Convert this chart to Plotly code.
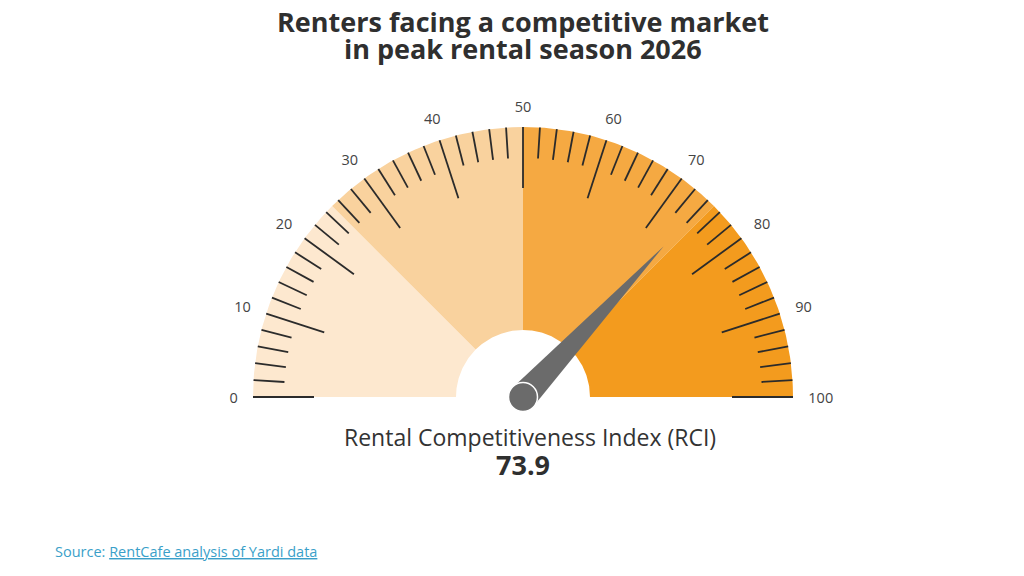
import numpy as np
import plotly.graph_objects as go

# ---- data ----
value = 73.9
band_edges = [0, 25, 50, 75, 100]
band_colors = ["#FDE8CF", "#F9D29E", "#F5A942", "#F39B1E"]
major_ticks = [0, 10, 20, 30, 40, 50, 60, 70, 80, 90, 100]
minor_ticks = [v for v in range(0, 101, 2) if v % 10 != 0]
tick_labels = [str(v) for v in major_ticks]
title_lines = ["Renters facing a competitive market", "in peak rental season 2026"]
index_name = "Rental Competitiveness Index (RCI)"

# ---- geometry (pixel-like units, gauge centre at 0,0) ----
W, H = 1024, 576
CX_PX, CY_PX = 523, 397
R_OUT, R_IN = 270, 67
MAJ_LEN, MIN_LEN = 61, 31
LABEL_EDGE_R = 285
LABEL_DY = -2.5
CHAR_W, TEXT_H = 8.5, 12
NEEDLE_LEN, NEEDLE_HALF = 206, 14
HUB_R = 14.5


def ang(v):
    return np.pi * (1 - v / 100.0)


fig = go.Figure()

# bands
for v0, v1, col in zip(band_edges[:-1], band_edges[1:], band_colors):
    t = np.linspace(ang(v0), ang(v1), 60)
    xs = np.concatenate([R_OUT * np.cos(t), R_IN * np.cos(t[::-1])])
    ys = np.concatenate([R_OUT * np.sin(t), R_IN * np.sin(t[::-1])])
    fig.add_trace(go.Scatter(x=xs, y=ys, fill="toself", fillcolor=col,
                             mode="lines", line=dict(width=0, color=col),
                             hoverinfo="skip", showlegend=False))


def tick_trace(vals, length, width):
    xs, ys = [], []
    for v in vals:
        a = ang(v)
        xs += [R_OUT * np.cos(a), (R_OUT - length) * np.cos(a), None]
        ys += [R_OUT * np.sin(a), (R_OUT - length) * np.sin(a), None]
    return go.Scatter(x=xs, y=ys, mode="lines",
                      line=dict(color="#2b2b2b", width=width),
                      hoverinfo="skip", showlegend=False)


fig.add_trace(tick_trace(minor_ticks, MIN_LEN, 1.8))
fig.add_trace(tick_trace(major_ticks, MAJ_LEN, 1.8))

# tick labels: box edge sits just outside the arc
lx, ly = [], []
for v, s in zip(major_ticks, tick_labels):
    a = ang(v)
    d = abs(np.cos(a)) * CHAR_W * len(s) / 2 + abs(np.sin(a)) * TEXT_H / 2
    r = LABEL_EDGE_R + d
    lx.append(r * np.cos(a))
    ly.append(r * np.sin(a) + LABEL_DY)
fig.add_trace(go.Scatter(x=lx, y=ly, mode="text", text=tick_labels,
                         textfont=dict(family="Open Sans", size=14.5, color="#444444"),
                         textposition="middle center",
                         hoverinfo="skip", showlegend=False))

# needle
a = ang(value)
px, py = -np.sin(a), np.cos(a)
nx = [NEEDLE_HALF * px, NEEDLE_LEN * np.cos(a), -NEEDLE_HALF * px, NEEDLE_HALF * px]
ny = [NEEDLE_HALF * py, NEEDLE_LEN * np.sin(a), -NEEDLE_HALF * py, NEEDLE_HALF * py]
fig.add_trace(go.Scatter(x=nx, y=ny, fill="toself", fillcolor="#6B6B6B",
                         mode="lines", line=dict(width=0, color="#6B6B6B"),
                         hoverinfo="skip", showlegend=False))
fig.add_shape(type="circle", xref="x", yref="y",
              x0=-HUB_R, x1=HUB_R, y0=-HUB_R, y1=HUB_R,
              fillcolor="#6B6B6B", line=dict(color="#ffffff", width=1.5))


# texts
def xp(px_):
    return px_ / W


def yp(py_):
    return 1 - py_ / H


def text(x, y, s, size, color="#2f2f2f", xanchor="center"):
    fig.add_annotation(x=xp(x), y=yp(y), xref="paper", yref="paper",
                       xanchor=xanchor, yanchor="middle", text=s,
                       showarrow=False,
                       font=dict(family="Open Sans", size=size, color=color))


text(523, 21, "<b>%s</b>" % title_lines[0], 27)
text(523, 49, "<b>%s</b>" % title_lines[1], 27)
text(530, 437, index_name, 23, "#333333")
text(523, 464, "<b>%.1f</b>" % value, 27)
text(53, 551, "Source: <u>RentCafe analysis of Yardi data</u>", 14.5,
     "#3A9FC9", xanchor="left")

fig.update_layout(
    width=W, height=H, margin=dict(l=0, r=0, t=0, b=0),
    paper_bgcolor="white", plot_bgcolor="white",
    xaxis=dict(range=[-CX_PX, W - CX_PX], visible=False, fixedrange=True),
    yaxis=dict(range=[-(H - CY_PX), CY_PX], visible=False, fixedrange=True),
    showlegend=False,
)

fig.write_html("out.html", config={"displayModeBar": False},
               post_script="document.body.style.margin='0';")
